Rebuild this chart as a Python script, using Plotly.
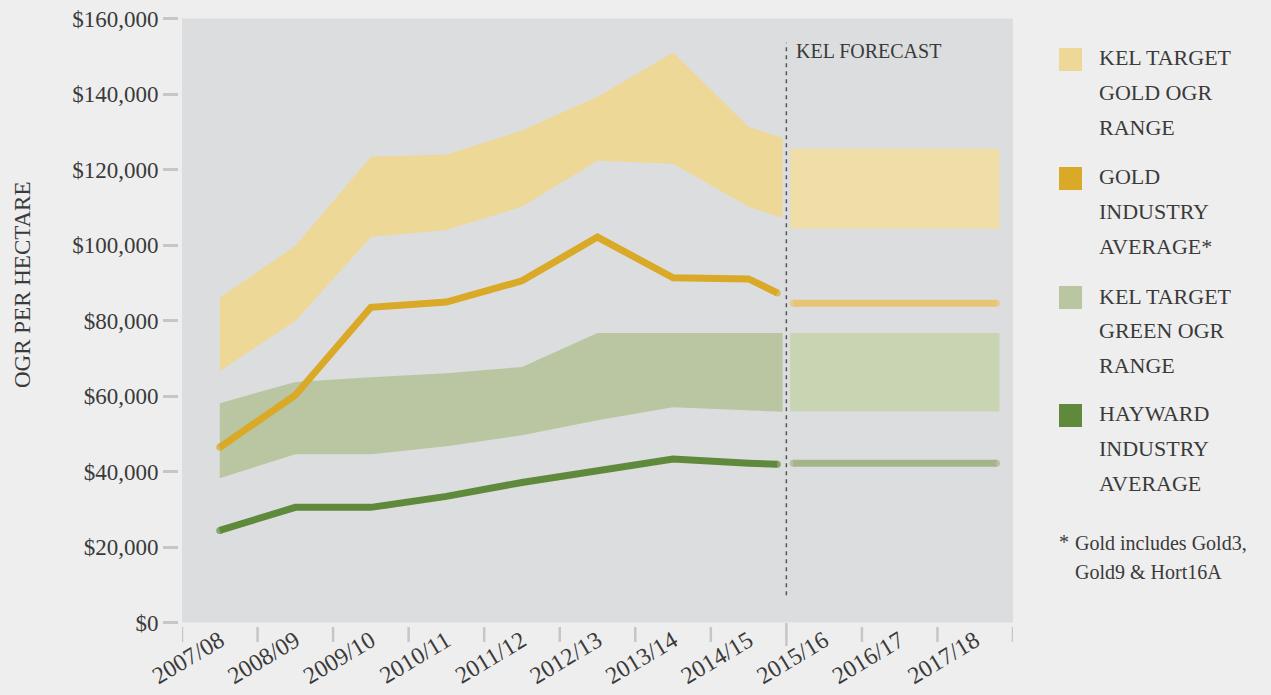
import plotly.graph_objects as go

# ---------------- data ----------------
categories = ["2007/08", "2008/09", "2009/10", "2010/11", "2011/12", "2012/13",
              "2013/14", "2014/15", "2015/16", "2016/17", "2017/18"]

# historical periods (index of category) plus the short run-out toward the forecast divider
hist_x = [0, 1, 2, 3, 4, 5, 6, 7]
band_end_x = 7.45
line_end_x = 7.38

gold_upper = [86000, 99800, 123400, 124000, 130300, 139300, 151000, 131300, 128400]
gold_lower = [66600, 79900, 102100, 104000, 110100, 122300, 121500, 110100, 107200]
gold_avg = [46400, 60200, 83500, 84900, 90500, 102100, 91300, 91000, 87300]

green_upper = [58100, 63700, 65000, 66000, 67700, 76700, 76700, 76700, 76700]
green_lower = [38200, 44600, 44600, 46700, 49600, 53600, 57000, 56200, 55800]
hayward_avg = [24400, 30500, 30500, 33400, 37100, 40000, 43300, 42200, 41900]

forecast_band_x = [7.55, 10.32]
forecast_line_x = [7.59, 10.28]
forecast_gold_range = [104300, 125500]
forecast_gold_avg = 84600
forecast_green_range = [55900, 76700]
forecast_hayward_avg = 42200

divider_x = 7.5
y_ticks = [0, 20000, 40000, 60000, 80000, 100000, 120000, 140000, 160000]
y_tick_labels = ["$0", "$20,000", "$40,000", "$60,000", "$80,000",
                 "$100,000", "$120,000", "$140,000", "$160,000"]

legend_labels = [["KEL TARGET", "GOLD OGR", "RANGE"],
                 ["GOLD", "INDUSTRY", "AVERAGE*"],
                 ["KEL TARGET", "GREEN OGR", "RANGE"],
                 ["HAYWARD", "INDUSTRY", "AVERAGE"]]
footnote = ["Gold includes Gold3,", "Gold9 & Hort16A"]

# ---------------- styles ----------------
FONT = "Liberation Serif"
TXT = "#3a3a3a"
PAPER = "#eeeeee"
PLOT = "#dcdddf"
GOLD_BAND = "#edd898"
GOLD_LINE = "#d9a927"
GREEN_BAND = "#b9c6a1"
GREEN_LINE = "#5f8a3b"
F_GOLD_BAND = "#f0dea8"
F_GOLD_LINE = "#e8c575"
F_GREEN_BAND = "#c9d4b3"
F_GREEN_LINE = "#a4b589"
TICK = "#c6c6c6"
legend_colors = [GOLD_BAND, GOLD_LINE, GREEN_BAND, GREEN_LINE]

W, H = 1271, 695
ML, MR, MT, MB = 150, 258, 18, 52
PW, PH = W - ML - MR, H - MT - MB


def px(xp):
    return (xp - ML) / PW


def py(yp):
    return (H - MB - yp) / PH


fig = go.Figure()

band_x = hist_x + [band_end_x]
line_x = hist_x + [line_end_x]


def add_band(upper, lower, color):
    fig.add_trace(go.Scatter(x=band_x + band_x[::-1], y=upper + lower[::-1],
                             fill="toself", fillcolor=color, mode="lines",
                             line=dict(width=0, color=color), hoverinfo="skip",
                             showlegend=False))


def add_line(xs, ys, color, width=7):
    sizes = [width] + [0] * (len(xs) - 2) + [width]
    fig.add_trace(go.Scatter(x=xs, y=ys, mode="lines+markers",
                             line=dict(color=color, width=width),
                             marker=dict(size=sizes, color=color, line=dict(width=0)),
                             hoverinfo="skip", showlegend=False))


add_band(gold_upper, gold_lower, GOLD_BAND)
add_band(green_upper, green_lower, GREEN_BAND)
add_line(line_x, gold_avg, GOLD_LINE)
add_line(line_x, hayward_avg, GREEN_LINE)

# forecast blocks
fx = forecast_band_x
fig.add_trace(go.Scatter(x=[fx[0], fx[1], fx[1], fx[0]],
                         y=[forecast_gold_range[1], forecast_gold_range[1],
                            forecast_gold_range[0], forecast_gold_range[0]],
                         fill="toself", fillcolor=F_GOLD_BAND, mode="lines",
                         line=dict(width=0, color=F_GOLD_BAND), hoverinfo="skip", showlegend=False))
fig.add_trace(go.Scatter(x=[fx[0], fx[1], fx[1], fx[0]],
                         y=[forecast_green_range[1], forecast_green_range[1],
                            forecast_green_range[0], forecast_green_range[0]],
                         fill="toself", fillcolor=F_GREEN_BAND, mode="lines",
                         line=dict(width=0, color=F_GREEN_BAND), hoverinfo="skip", showlegend=False))
add_line(forecast_line_x, [forecast_gold_avg] * 2, F_GOLD_LINE)
add_line(forecast_line_x, [forecast_hayward_avg] * 2, F_GREEN_LINE)

shapes = []
# forecast divider
shapes.append(dict(type="line", xref="x", yref="y", x0=divider_x, x1=divider_x,
                   y0=7200, y1=153600, line=dict(color="#555555", width=1.5, dash="4px,4px")))
# category boundary ticks (the divider one is longer)
for i in range(len(categories) + 1):
    b = i - 0.5
    if b == divider_x:
        y0, y1 = py(623), py(646)
    else:
        y0, y1 = py(627), py(642)
    shapes.append(dict(type="line", xref="x", yref="paper", x0=b, x1=b, y0=y0, y1=y1,
                       line=dict(color=TICK, width=2.5)))

annotations = []
annotations.append(dict(x=divider_x, y=py(51), xref="x", yref="paper", xshift=8,
                        text="KEL FORECAST", showarrow=False, xanchor="left", yanchor="middle",
                        font=dict(family=FONT, size=20, color=TXT)))
annotations.append(dict(x=px(22), y=py(285), xref="paper", yref="paper",
                        text="OGR PER HECTARE", textangle=-90, showarrow=False,
                        xanchor="center", yanchor="middle",
                        font=dict(family=FONT, size=23, color=TXT)))

# custom legend
item_top = [48, 167, 286, 404]
for top, color, lines in zip(item_top, legend_colors, legend_labels):
    shapes.append(dict(type="rect", xref="paper", yref="paper",
                       x0=px(1059), x1=px(1082), y0=py(top), y1=py(top + 23),
                       fillcolor=color, line=dict(width=0)))
    for i, ln in enumerate(lines):
        annotations.append(dict(x=px(1097), y=py(top + 10 + 34.5 * i), xref="paper", yref="paper",
                                text=ln, showarrow=False, xanchor="left", yanchor="middle",
                                font=dict(family=FONT, size=22, color=TXT)))

annotations.append(dict(x=px(1057), y=py(542), xref="paper", yref="paper", text="*",
                        showarrow=False, xanchor="left", yanchor="middle",
                        font=dict(family=FONT, size=20, color=TXT)))
for i, ln in enumerate(footnote):
    annotations.append(dict(x=px(1073), y=py(543 + 29 * i), xref="paper", yref="paper", text=ln,
                            showarrow=False, xanchor="left", yanchor="middle",
                            font=dict(family=FONT, size=20, color=TXT)))

fig.update_layout(
    width=W, height=H,
    margin=dict(l=ML, r=MR, t=MT, b=MB),
    paper_bgcolor=PAPER, plot_bgcolor=PLOT,
    showlegend=False,
    xaxis=dict(range=[-0.5, 10.5], domain=[px(182), 1], anchor="free", position=py(621),
               tickmode="array", tickvals=list(range(len(categories))), ticktext=categories,
               tickangle=-31, ticks="", showgrid=False, zeroline=False, showline=False,
               tickfont=dict(family=FONT, size=24, color=TXT),
               automargin=False, fixedrange=True),
    yaxis=dict(range=[0, 160000], domain=[py(622.5), py(18.5)], anchor="free", position=px(178),
               tickmode="array", tickvals=y_ticks, ticktext=y_tick_labels,
               ticks="outside", ticklen=15, tickwidth=2.5, tickcolor=TICK,
               showgrid=False, zeroline=False, showline=False,
               tickfont=dict(family=FONT, size=23, color=TXT),
               automargin=False, fixedrange=True),
    shapes=shapes, annotations=annotations,
)

fig.write_html("out.html", config={"displayModeBar": False},
               post_script="document.body.style.margin='0';")
